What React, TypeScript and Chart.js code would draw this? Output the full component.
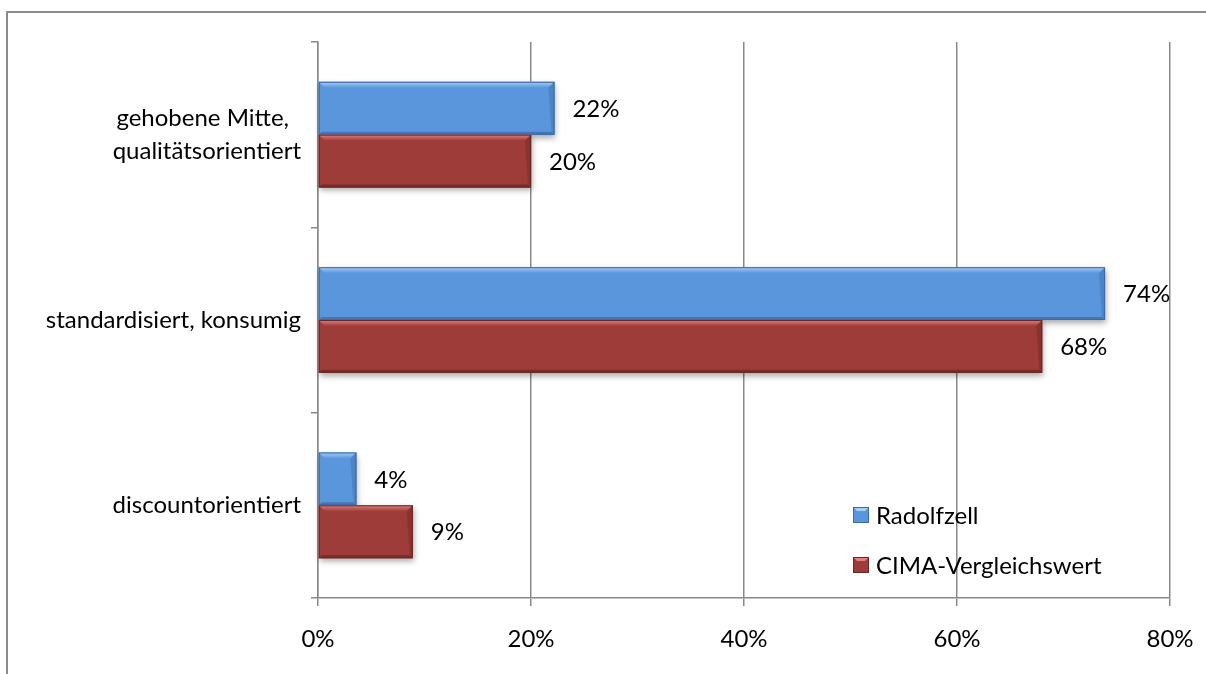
import React, { useEffect, useRef } from "react";
import { Chart, registerables } from "chart.js";

Chart.register(...registerables);

const categories: (string | string[])[] = [
  ["gehobene Mitte,\u2002", "qualitätsorientiert"],
  "standardisiert, konsumig",
  "discountorientiert",
];
const seriesNames = ["Radolfzell", "CIMA-Vergleichswert"];
const radolfzell = [22.2, 73.9, 3.6];
const cima = [20, 68, 8.9];
const xTicks = [0, 20, 40, 60, 80];

const FONT = "Lato";
const GRID = "#898989";

const palette = [
  { main: "#5a96dc", light: "#a6cff7", dark: "#3b6aa3", edge: "#4a7fc0" },
  { main: "#9e3c3a", light: "#e5817e", dark: "#6a2624", edge: "#833130" },
];

const framePlugin = {
  id: "frame",
  beforeDraw(chart: any) {
    const ctx = chart.ctx;
    ctx.save();
    ctx.fillStyle = "#fff";
    ctx.fillRect(0, 0, chart.width, chart.height);
    ctx.strokeStyle = "#8c8c8c";
    ctx.lineWidth = 2;
    ctx.beginPath();
    ctx.moveTo(7, chart.height + 5);
    ctx.lineTo(7, 12);
    ctx.lineTo(chart.width + 5, 12);
    ctx.stroke();
    ctx.restore();
  },
};

const bevelPlugin = {
  id: "bevel",
  beforeDatasetsDraw(chart: any) {
    const ctx = chart.ctx;
    ctx.save();
    chart.data.datasets.forEach((_: any, di: number) => {
      const meta = chart.getDatasetMeta(di);
      meta.data.forEach((el: any) => {
        const { x, y, base, height } = el.getProps(["x", "y", "base", "height"], true);
        const top = y - height / 2;
        ctx.shadowColor = "rgba(0,0,0,0.35)";
        ctx.shadowBlur = 6;
        ctx.shadowOffsetY = 3;
        ctx.shadowOffsetX = 1;
        ctx.fillStyle = "#888";
        ctx.fillRect(base, top, x - base, height);
      });
    });
    ctx.restore();
  },
  afterDatasetsDraw(chart: any) {
    const ctx = chart.ctx;
    ctx.save();
    chart.data.datasets.forEach((ds: any, di: number) => {
      const meta = chart.getDatasetMeta(di);
      const c = palette[di];
      meta.data.forEach((el: any, idx: number) => {
        const { x, y, base, height } = el.getProps(["x", "y", "base", "height"], true);
        const top = y - height / 2;
        const bottom = y + height / 2;
        const w = x - base;
        const b = Math.min(6, w / 2);
        const g = ctx.createLinearGradient(0, top, 0, top + b);
        g.addColorStop(0, c.light);
        g.addColorStop(1, c.main);
        ctx.fillStyle = g;
        ctx.beginPath();
        ctx.moveTo(base, top);
        ctx.lineTo(x, top);
        ctx.lineTo(x - b, top + b);
        ctx.lineTo(base + b, top + b);
        ctx.closePath();
        ctx.fill();
        ctx.fillStyle = c.dark;
        ctx.globalAlpha = 0.7;
        ctx.beginPath();
        ctx.moveTo(base, bottom);
        ctx.lineTo(x, bottom);
        ctx.lineTo(x - 3, bottom - 3);
        ctx.lineTo(base + 3, bottom - 3);
        ctx.closePath();
        ctx.fill();
        ctx.globalAlpha = 0.8;
        ctx.fillStyle = c.edge;
        ctx.beginPath();
        ctx.moveTo(x, top);
        ctx.lineTo(x, bottom);
        ctx.lineTo(x - 3, bottom - 3);
        ctx.lineTo(x - b, top + b);
        ctx.closePath();
        ctx.fill();
        ctx.globalAlpha = 1;
        ctx.strokeStyle = c.dark;
        ctx.lineWidth = 1;
        ctx.strokeRect(base + 0.5, top + 0.5, w - 1, height - 1);
        const v = ds.data[idx];
        ctx.fillStyle = "#000";
        ctx.font = `24px ${FONT}`;
        ctx.textBaseline = "middle";
        ctx.textAlign = "left";
        ctx.fillText(Math.round(v) + "%", x + 18, y + 1);
      });
    });
    ctx.restore();
  },
};

const legendPlugin = {
  id: "customLegend",
  afterDraw(chart: any) {
    const ctx = chart.ctx;
    ctx.save();
    const ys = [515, 565];
    seriesNames.forEach((name, i) => {
      const c = palette[i];
      const cy = ys[i];
      const sx = 853;
      const sy = cy - 8;
      const s = 16;
      ctx.fillStyle = c.main;
      ctx.fillRect(sx, sy, s, s);
      ctx.fillStyle = c.light;
      ctx.beginPath();
      ctx.moveTo(sx, sy);
      ctx.lineTo(sx + s, sy);
      ctx.lineTo(sx + s - 4, sy + 4);
      ctx.lineTo(sx + 4, sy + 4);
      ctx.closePath();
      ctx.fill();
      ctx.strokeStyle = c.dark;
      ctx.lineWidth = 1;
      ctx.strokeRect(sx + 0.5, sy + 0.5, s - 1, s - 1);
      ctx.fillStyle = "#000";
      ctx.font = `24px ${FONT}`;
      ctx.textBaseline = "middle";
      ctx.textAlign = "left";
      ctx.fillText(name, 876, cy + 1);
    });
    ctx.restore();
  },
};

export default function App() {
  const ref = useRef<HTMLCanvasElement>(null);
  useEffect(() => {
    if (!ref.current) return;
    const chart = new Chart(ref.current, {
      type: "bar",
      data: {
        labels: categories,
        datasets: [
          {
            label: seriesNames[0],
            data: radolfzell,
            backgroundColor: palette[0].main,
            categoryPercentage: 0.57,
            barPercentage: 1,
          },
          {
            label: seriesNames[1],
            data: cima,
            backgroundColor: palette[1].main,
            categoryPercentage: 0.57,
            barPercentage: 1,
          },
        ],
      },
      options: {
        indexAxis: "y",
        animation: false,
        responsive: false,
        layout: { padding: { top: 42, right: 36, left: 0, bottom: 0 } },
        plugins: { legend: { display: false }, tooltip: { enabled: false } },
        scales: {
          x: {
            min: 0,
            max: 80,
            afterBuildTicks: (scale: any) => {
              scale.ticks = xTicks.map((v) => ({ value: v }));
            },
            afterFit: (scale: any) => {
              scale.height = 76;
              scale.paddingRight = 0;
              scale.paddingLeft = 0;
            },
            grid: { color: GRID, lineWidth: 1.5, tickLength: 8, drawTicks: true },
            border: { color: GRID, width: 1.5 },
            ticks: {
              color: "#000",
              font: { family: FONT, size: 24 },
              padding: 19,
              callback: (v: any) => v + "%",
            },
          },
          y: {
            afterFit: (scale: any) => {
              scale.width = 318;
            },
            grid: { drawOnChartArea: false, color: GRID, lineWidth: 1.5, tickLength: 7, offset: true },
            border: { color: GRID, width: 1.5 },
            ticks: {
              color: "#000",
              font: { family: FONT, size: 24, lineHeight: 1.35 },
              padding: 10,
            },
          },
        },
      },
      plugins: [framePlugin, bevelPlugin, legendPlugin],
    });
    return () => chart.destroy();
  }, []);
  return (
    <div style={{ position: "absolute", left: 0, top: 0, width: 1206, height: 674 }}>
      <canvas ref={ref} width={1206} height={674} style={{ display: "block" }} />
    </div>
  );
}
